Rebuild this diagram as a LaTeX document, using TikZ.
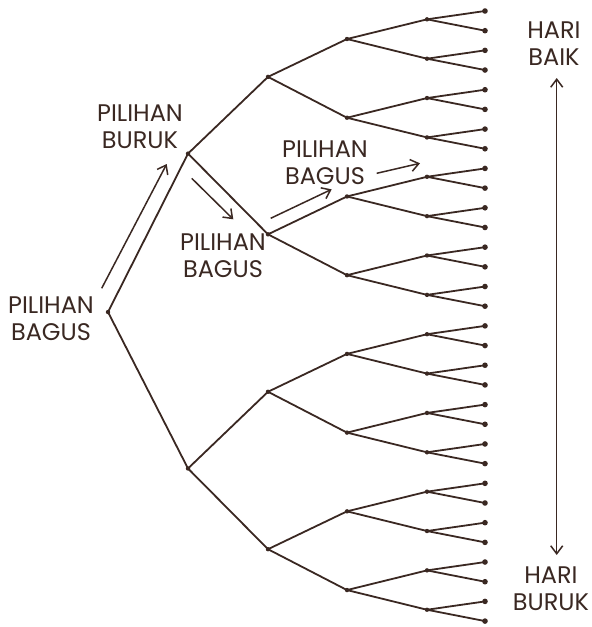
\documentclass[tikz,border=0pt]{standalone}
\usepackage{fontspec}
\setmainfont{Poppins}
\usetikzlibrary{arrows.meta}
\definecolor{inkbrown}{RGB}{58,40,34}

\begin{document}
\begin{tikzpicture}[
  x=0.5pt, y=-0.5pt,
  leaf/.style={circle, fill=inkbrown, inner sep=0pt, minimum size=2.8pt},
  fork/.style={circle, fill=inkbrown, inner sep=0pt, minimum size=2.2pt},
  branch/.style={draw=inkbrown, line width=0.9pt},
  barb/.tip={Straight Barb[length=4pt,width=6pt]},
  hint/.style={draw=inkbrown, line width=0.75pt, -barb},
  tag/.style={align=center, text=inkbrown, font=\fontsize{12}{13.4}\selectfont},
]
  \useasboundingbox (0,0) rectangle (591,627);

  % leaves
  \foreach \i in {0,...,31}
    \node[leaf] (n5-\i) at (485, 11+19.68*\i) {};

  % forks, from the leaves back to the root
  \foreach \lvl/\x/\dy in {4/427/-1.5, 3/347/-1.5, 2/268/-3, 1/188/-5, 0/108/-4} {
    \pgfmathtruncatemacro\nfork{2^\lvl-1}
    \pgfmathtruncatemacro\grp{2^(5-\lvl)}
    \pgfmathtruncatemacro\nxt{\lvl+1}
    \foreach \j in {0,...,\nfork} {
      \pgfmathtruncatemacro\ca{2*\j}
      \pgfmathtruncatemacro\cb{2*\j+1}
      \node[fork] (n\lvl-\j) at (\x, {11+19.68*(\grp*\j+(\grp-1)/2)+\dy}) {};
      \draw[branch] (n\lvl-\j.center) -- (n\nxt-\ca.center);
      \draw[branch] (n\lvl-\j.center) -- (n\nxt-\cb.center);
    }
  }

  \node[tag] (pickA) at (51,319)  {PILIHAN\\BAGUS};
  \node[tag] (pickB) at (140,127) {PILIHAN\\BURUK};
  \node[tag] (pickC) at (223,256) {PILIHAN\\BAGUS};
  \node[tag] (pickD) at (325,163) {PILIHAN\\BAGUS};
  \node[tag] (dayGood) at (554,44)  {HARI\\BAIK};
  \node[tag] (dayBad)  at (551,589) {HARI\\BURUK};

  \coordinate (a1s) at (101.7,288.3); \coordinate (a1e) at (166.7,164);
  \coordinate (a2s) at (191.7,178.3); \coordinate (a2e) at (233.3,219.3);
  \coordinate (a3s) at (270.7,218.3); \coordinate (a3e) at (331.7,189.3);
  \coordinate (a4s) at (376.7,173.3); \coordinate (a4e) at (420,163.3);
  \coordinate (upEnd) at (556.7,78);  \coordinate (downEnd) at (556.7,555);

  \draw[hint] (a1s) -- (a1e);
  \draw[hint] (a2s) -- (a2e);
  \draw[hint] (a3s) -- (a3e);
  \draw[hint] (a4s) -- (a4e);
  \draw[hint, barb-barb] (upEnd) -- (downEnd);
\end{tikzpicture}
\end{document}
